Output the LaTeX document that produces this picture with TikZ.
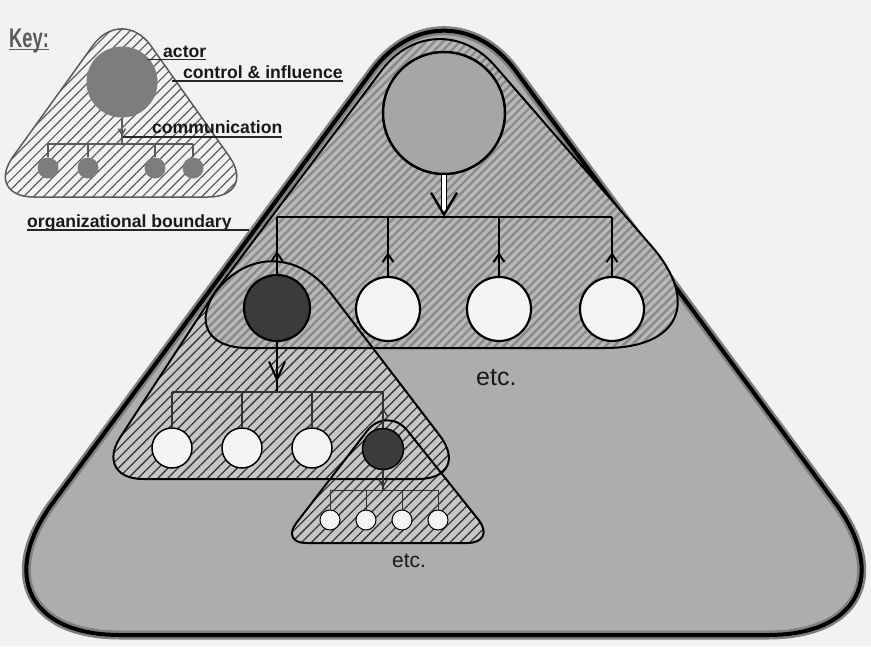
\documentclass[tikz,border=0pt]{standalone}
\usepackage{fontspec}
\setmainfont{Liberation Sans}
\usetikzlibrary{calc, patterns.meta, decorations.markings, arrows.meta}

\definecolor{paper}{HTML}{F2F2F2}
\definecolor{outerfill}{HTML}{ADADAD}
\definecolor{topbg}{HTML}{B8B8B8}
\definecolor{tophatchc}{HTML}{8A8A8A}
\definecolor{subbg}{HTML}{C6C6C6}
\definecolor{subhatchc}{HTML}{383838}
\definecolor{keyhatchc}{HTML}{5C5C5C}
\definecolor{keygray}{HTML}{5A5A5A}
\definecolor{darkactor}{HTML}{3B3B3B}
\definecolor{headfill}{HTML}{A6A6A6}
\definecolor{keyactor}{HTML}{7D7D7D}
\definecolor{whiteactor}{HTML}{F4F4F4}

% rounded triangle: corners #1 #2 #3, rounding #4 #5 #6
\newcommand{\orgshape}[6]{($(#1)!0.5!(#3)$) -- ($(#1)!#4!(#3)$)
  .. controls ($(#1)!0.45*#4!(#3)$) and ($(#1)!0.45*#4!(#2)$) .. ($(#1)!#4!(#2)$)
  -- ($(#2)!#5!(#1)$)
  .. controls ($(#2)!0.45*#5!(#1)$) and ($(#2)!0.45*#5!(#3)$) .. ($(#2)!#5!(#3)$)
  -- ($(#3)!#6!(#2)$)
  .. controls ($(#3)!0.45*#6!(#2)$) and ($(#3)!0.45*#6!(#1)$) .. ($(#3)!#6!(#1)$)
  -- cycle}

\tikzset{
  actor/.style={circle, draw=black, inner sep=0pt},
  orgline/.style={draw=black, line width=2pt},
  tophatch/.style={preaction={fill=topbg}, pattern={Lines[angle=45,distance=6pt,line width=2.4pt]}, pattern color=tophatchc},
  subhatch/.style={preaction={fill=subbg}, pattern={Lines[angle=45,distance=7pt,line width=1.3pt]}, pattern color=subhatchc},
  keyhatch/.style={preaction={fill=paper}, pattern={Lines[angle=45,distance=7pt,line width=1.2pt]}, pattern color=keyhatchc},
  topwire/.style={line width=2pt},
  subwire/.style={line width=1.3pt, draw=black!80},
  thinwire/.style={line width=1pt, draw=black!80},
  keywire/.style={line width=1.5pt, draw=keygray},
  tipat/.style n args={3}{postaction={decorate}, decoration={markings, mark=at position #1 with {\arrow{Straight Barb[length=#2,width=#3]}}}},
  keylabel/.style={font=\fontsize{17.6}{20}\selectfont\bfseries, inner sep=0pt, anchor=base west, text=black!90},
  leader/.style={line width=1.6pt, draw=black!85},
  etclabel/.style={inner sep=0pt, anchor=base west, text=black!90},
}

\begin{document}
\begin{tikzpicture}[x=1pt, y=-1pt]
  \useasboundingbox (0,0) rectangle (871,646);
  \fill[paper] (0,0) rectangle (871,646);

  %corners of the boundaries
  \coordinate (OL) at (-45,635); \coordinate (OV) at (444,-26); \coordinate (OR) at (933,635);
  \coordinate (AL) at (173,348); \coordinate (AV) at (436,-2);  \coordinate (AR) at (740,348);
  \coordinate (BL) at (93,479);  \coordinate (BV) at (268,211); \coordinate (BR) at (473,479);
  \coordinate (CL) at (281,543); \coordinate (CV) at (387,405); \coordinate (CR) at (497,543);
  \coordinate (KL) at (-16,197); \coordinate (KV) at (122,5);   \coordinate (KR) at (258,197);

  %boundaries
  \path[fill=outerfill, postaction={draw=black!50, line width=9pt}, postaction={draw=black, line width=4pt}]
    \orgshape{OL}{OV}{OR}{165pt}{120pt}{165pt};
  \path[subhatch] \orgshape{CL}{CV}{CR}{25pt}{33pt}{30pt};
  \path[subhatch] \orgshape{BL}{BV}{BR}{50pt}{105pt}{55pt};
  \path[tophatch] \orgshape{AL}{AV}{AR}{75pt}{90pt}{135pt};
  \path[orgline] \orgshape{CL}{CV}{CR}{25pt}{33pt}{30pt};
  \path[orgline] \orgshape{BL}{BV}{BR}{50pt}{105pt}{55pt};
  \path[orgline] \orgshape{AL}{AV}{AR}{75pt}{90pt}{135pt};
  \path[keyhatch, draw=keygray, line width=1.5pt] \orgshape{KL}{KV}{KR}{50pt}{50pt}{50pt};

  %nodes
  \node[actor, fill=headfill, line width=2.5pt, minimum size=122pt] (head) at (444,113) {};
  \node[actor, fill=darkactor, line width=2.2pt, minimum size=66pt] (mgr) at (277,308) {};
  \foreach \n/\x in {1/388, 2/499, 3/612}
    \node[actor, fill=whiteactor, line width=2.2pt, minimum size=64pt] (w\n) at (\x,309) {};
  \foreach \n/\x in {1/172, 2/242, 3/312}
    \node[actor, fill=whiteactor, line width=1.5pt, minimum size=40pt] (s\n) at (\x,448) {};
  \node[actor, fill=darkactor, line width=1.5pt, minimum size=41pt] (mgr2) at (383,449) {};
  \foreach \n/\x in {1/330, 2/366, 3/402, 4/438}
    \node[actor, fill=whiteactor, line width=1pt, minimum size=20pt] (t\n) at (\x,520) {};
  \node[circle, fill=keyactor, inner sep=0pt, minimum size=71pt] (kact) at (122,82) {};
  \foreach \n/\x in {1/48, 2/88, 3/155, 4/193}
    \node[circle, fill=keyactor, inner sep=0pt, minimum size=21pt] (k\n) at (\x,168) {};

  \coordinate (bus1) at (444,217);
  \coordinate (bus2) at (277,392);
  \coordinate (bus3) at (383,490);
  \coordinate (kbus) at (122,144);

  %edges
  \draw[line width=1.3pt, double=white, double distance=3.5pt, shorten >=6pt] (head.south) -- (bus1);
  \draw[line width=2.4pt, -{Straight Barb[length=22pt,width=26pt]}] ($(bus1)+(0,-2)$) -- (bus1);
  \draw[topwire] (mgr.north |- bus1) -- (w3.north |- bus1);
  \foreach \c in {mgr, w1, w2, w3}
    \draw[topwire, tipat={0.4}{8pt}{11pt}] (\c.north) -- (\c.north |- bus1);
  \draw[topwire, tipat={0.8}{18pt}{16pt}] (mgr.south) -- (bus2);

  \draw[subwire] (s1.north |- bus2) -- (mgr2.north |- bus2);
  \foreach \c in {s1, s2, s3}
    \draw[subwire] (\c.north) -- (\c.north |- bus2);
  \draw[subwire, tipat={0.55}{7pt}{9pt}] (mgr2.north) -- (mgr2.north |- bus2);
  \draw[subwire, tipat={0.9}{7pt}{8pt}] (mgr2.south) -- (bus3);

  \draw[thinwire] (t1.north |- bus3) -- (t4.north |- bus3);
  \foreach \c in {t1, t2, t3, t4}
    \draw[thinwire] (\c.north) -- (\c.north |- bus3);

  \draw[keywire, tipat={0.7}{6pt}{7pt}] (kact.south) -- (kbus);
  \draw[keywire] (k1.north |- kbus) -- (k4.north |- kbus);
  \foreach \c in {k1, k2, k3, k4}
    \draw[keywire] (\c.north) -- (\c.north |- kbus);

  %labels
  \node[keylabel, font=\fontsize{27}{30}\selectfont\bfseries, text=keygray] (keylbl) at (9,47) {\scalebox{0.68}[1]{Key:}};
  \node[keylabel] (actlbl) at (163,57) {actor};
  \node[keylabel] (ctllbl) at (183,78) {control \& influence};
  \node[keylabel] (comlbl) at (152,133) {communication};
  \node[keylabel] (bndlbl) at (27,227) {organizational boundary};
  \node[etclabel, font=\fontsize{25}{28}\selectfont] (etc1) at (476,385) {etc.};
  \node[etclabel, font=\fontsize{21}{24}\selectfont] (etc2) at (392,567) {etc.};

  \coordinate (keypt) at (9,49.5);
  \coordinate (actpt) at (147,59.5);
  \coordinate (ctlpt) at (172,81);
  \coordinate (compt) at (123,137);
  \coordinate (bndpt) at (249,230);
  \draw[line width=1.6pt, keygray] (keypt) -- (keypt -| keylbl.east);
  \draw[leader] (actpt) -- (actpt -| actlbl.east);
  \draw[leader] (ctlpt) -- (ctlpt -| ctllbl.east);
  \draw[leader] (compt) -- (compt -| comlbl.east);
  \draw[leader] (bndpt) -- (bndpt -| bndlbl.west);
\end{tikzpicture}
\end{document}
